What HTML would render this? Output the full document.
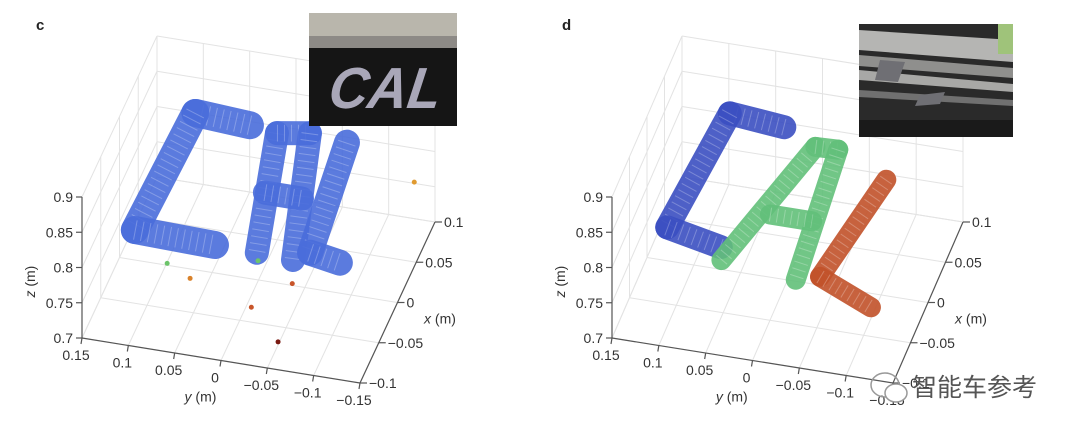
<!DOCTYPE html>
<html><head><meta charset="utf-8"><style>
html,body{margin:0;padding:0;background:#fff;width:1080px;height:435px;overflow:hidden}
svg{display:block}
text{font-family:"Liberation Sans","Noto Sans CJK SC",sans-serif}
</style></head><body>
<svg id="fig" width="1080" height="435" viewBox="0 0 1080 435" xmlns="http://www.w3.org/2000/svg">
  <text x="36" y="30" font-size="15" font-weight="bold" fill="#222">c</text>
  <text x="562" y="30" font-size="15" font-weight="bold" fill="#222">d</text>
  <g id="pc"></g>
  <g id="pd"></g>
  <!-- inset photo c -->
  <g>
    <rect x="309" y="13" width="148" height="113" fill="#151515"/>
    <rect x="309" y="13" width="148" height="30" fill="#b9b6ac"/>
    <rect x="309" y="36" width="148" height="12" fill="#8d8a86"/>
    <text x="330" y="108" font-size="58" font-weight="bold" font-style="italic" fill="#a9a7b8" textLength="112" lengthAdjust="spacingAndGlyphs" transform="skewX(-8) translate(12 0)">CAL</text>
  </g>
  <!-- inset photo d -->
  <g>
    <rect x="859" y="24" width="154" height="113" fill="#2a2a2a"/>
    <polygon points="859,30 1013,40 1013,62 859,50" fill="#b5b5b3"/>
    <polygon points="859,55 1013,68 1013,78 859,66" fill="#8f8f8d"/>
    <polygon points="859,70 1013,84 1013,92 859,80" fill="#a8a8a6"/>
    <polygon points="859,90 1013,100 1013,106 859,97" fill="#707070"/>
    <rect x="859" y="120" width="154" height="17" fill="#1a1a1a"/>
    <polygon points="880,60 905,62 898,82 875,80" fill="#6f6f74"/>
    <polygon points="920,95 945,92 940,104 915,106" fill="#6f6f74"/>
    <rect x="998" y="24" width="15" height="30" fill="#9fc37a"/>
  </g>
  <!-- watermark -->
  <g>
    <ellipse cx="885" cy="385" rx="14" ry="12" fill="none" stroke="#999" stroke-width="1.5"/>
    <ellipse cx="896" cy="393" rx="11" ry="9" fill="#fff" stroke="#999" stroke-width="1.5"/>
    <text x="912" y="396" font-size="25" fill="#555">智能车参考</text>
  </g>
</svg>
<script>
// ---- data ----
const zTicks = [0.7, 0.75, 0.8, 0.85, 0.9];
const zTickLabels = ["0.7", "0.75", "0.8", "0.85", "0.9"];
const yTicks = [0.15, 0.1, 0.05, 0, -0.05, -0.1, -0.15];
const yTickLabels = ["0.15", "0.1", "0.05", "0", "\u22120.05", "\u22120.1", "\u22120.15"];
const xTicks = [-0.1, -0.05, 0, 0.05, 0.1];
const xTickLabels = ["\u22120.1", "\u22120.05", "0", "0.05", "0.1"];

// letter strokes in data coords: [y1, x1, y2, x2] at z = 0.85
const strokesC = [[0.0315,0.055,0.092,0.059],[0.092,0.059,0.098,-0.0875],[0.098,-0.0875,0.0106,-0.0899]];
const strokesA = [[0.0007,0.051,-0.035,-0.091],[0.0007,0.051,-0.0324,0.057],[-0.0324,0.057,-0.0747,-0.0926],[-0.015,-0.02,-0.055,-0.02]];
const strokesL = [[-0.074,0.053,-0.0885,-0.081],[-0.0885,-0.081,-0.123,-0.087]];
const outliersC = [[0.020,-0.133,0.85],[-0.098,-0.19,0.85],[-0.055,-0.155,0.85],[-0.085,-0.12,0.85],[-0.16,0.02,0.85],[0.05,-0.12,0.85],[-0.04,-0.1,0.85]];
const outlierColorsC = ["#d9822b","#7a1a12","#c8552a","#c8552a","#e09a30","#6cc46a","#6cc46a"];

const strokesD_C = [[0.0236,0.054,0.084,0.060],[0.084,0.060,0.097,-0.084],[0.097,-0.084,0.035,-0.097]];
const strokesD_A = [[0.0287,-0.112,-0.016,0.037],[-0.016,0.037,-0.040,0.038],[-0.040,0.038,-0.054,-0.121],[0.0,-0.05,-0.045,-0.05]];
const strokesD_L = [[-0.101,0.012,-0.077,-0.113],[-0.077,-0.113,-0.141,-0.139]];

const NS = "http://www.w3.org/2000/svg";
function mk(parent, tag, attrs){ const e=document.createElementNS(NS,tag); for(const k in attrs) e.setAttribute(k,attrs[k]); parent.appendChild(e); return e; }

function makeProj(O, Vy, Vx, Vz){
  return function(y,x,z){
    const a=(0.15-y)/0.3, b=(x+0.1)/0.2, c=(z-0.7)/0.2;
    return [O[0]+a*Vy[0]+b*Vx[0]+c*Vz[0], O[1]+a*Vy[1]+b*Vx[1]+c*Vz[1]];
  };
}

function line(g,p,q,stroke,w){ return mk(g,'line',{x1:p[0],y1:p[1],x2:q[0],y2:q[1],stroke:stroke,'stroke-width':w}); }

function drawAxes(g, P){
  const gc="#e3e3e3";
  const grid=mk(g,'g',{});
  
  
  yTicks.forEach(y=>line(grid,P(y,-0.1,0.7),P(y,0.1,0.7),gc,1));
  xTicks.forEach(x=>line(grid,P(0.15,x,0.7),P(-0.15,x,0.7),gc,1));
  zTicks.forEach(z=>line(grid,P(0.15,-0.1,z),P(0.15,0.1,z),gc,1));
  xTicks.forEach(x=>line(grid,P(0.15,x,0.7),P(0.15,x,0.9),gc,1));
  zTicks.forEach(z=>line(grid,P(0.15,0.1,z),P(-0.15,0.1,z),gc,1));
  yTicks.forEach(y=>line(grid,P(y,0.1,0.7),P(y,0.1,0.9),gc,1));
  const ac="#555";
  const za=line(g,P(0.15,-0.1,0.7),P(0.15,-0.1,0.9),ac,1.2);
   
  zTicks.forEach((z,i)=>{
    const p=P(0.15,-0.1,z);
    line(g,p,[p[0]-6,p[1]],ac,1.2);
    const t=mk(g,'text',{x:p[0]-9,y:p[1]+5,'font-size':14,fill:'#333','text-anchor':'end'});
     
    t.textContent=zTickLabels[i];
  });
  const ya=line(g,P(0.15,-0.1,0.7),P(-0.15,-0.1,0.7),ac,1.2);
   
  yTicks.forEach((y,i)=>{
    const p=P(y,-0.1,0.7);
    line(g,p,[p[0]-1,p[1]+6],ac,1.2);
    const t=mk(g,'text',{x:p[0]-6,y:p[1]+22,'font-size':14,fill:'#333','text-anchor':'middle'});
     
    t.textContent=yTickLabels[i];
  });
  const xa=line(g,P(-0.15,-0.1,0.7),P(-0.15,0.1,0.7),ac,1.2);
   
  xTicks.forEach((x,i)=>{
    const p=P(-0.15,x,0.7);
    line(g,p,[p[0]+7,p[1]],ac,1.2);
    const t=mk(g,'text',{x:p[0]+9,y:p[1]+5,'font-size':14,fill:'#333'});
     
    t.textContent=xTickLabels[i];
  });
  const zc=P(0.15,-0.1,0.78);
  const zl=mk(g,'text',{x:zc[0]-47,y:zc[1],'font-size':14,fill:'#333','text-anchor':'middle',transform:`rotate(-90 ${zc[0]-47} ${zc[1]})`});
   
  zl.innerHTML='<tspan font-style="italic">z</tspan> (m)';
  const yc=P(0.02,-0.1,0.7);
  const yl=mk(g,'text',{x:yc[0]-2,y:yc[1]+44,'font-size':14,fill:'#333','text-anchor':'middle'});
   
  yl.innerHTML='<tspan font-style="italic">y</tspan> (m)';
  const xc=P(-0.15,-0.02,0.7);
  const xl=mk(g,'text',{x:xc[0]+50,y:xc[1]+5,'font-size':14,fill:'#333','text-anchor':'middle'});
   
  xl.innerHTML='<tspan font-style="italic">x</tspan> (m)';
}

function drawLetter(g, P, strokes, color, w, name){
  const lg=mk(g,'g',{});
  
  
  strokes.forEach(s=>{
    const p=P(s[0],s[1],0.85), q=P(s[2],s[3],0.85);
    const l=line(lg,p,q,color,w);
    l.setAttribute('stroke-linecap','round'); l.setAttribute('opacity','0.9');
     
    const d=line(lg,p,q,'#fff',w*0.7);
    d.setAttribute('stroke-dasharray','1 6'); d.setAttribute('opacity','0.25');
  });
}

// panel c
const Pc=makeProj([82,338],[278,45],[75,-161],[0,-141]);
const gc=document.getElementById('pc');
drawAxes(gc,Pc);
drawLetter(gc,Pc,strokesC,'#4a6ddb',28,'letter-c-points');
drawLetter(gc,Pc,strokesA,'#4a6ddb',24,'letter-a-points');
drawLetter(gc,Pc,strokesL,'#4a6ddb',26,'letter-l-points');
outliersC.forEach((o,i)=>{
  const p=Pc(o[0],o[1],o[2]);
  const c=mk(gc,'circle',{cx:p[0],cy:p[1],r:2.5,fill:outlierColorsC[i]});
  
  
});

// panel d
const Pd=makeProj([612,338],[281,45],[70,-161],[0,-141]);
const gd=document.getElementById('pd');
drawAxes(gd,Pd);
drawLetter(gd,Pd,strokesD_C,'#3b4fc2',24,'letter-c-points');
drawLetter(gd,Pd,strokesD_A,'#62c07a',20,'letter-a-points');
drawLetter(gd,Pd,strokesD_L,'#c2522a',20,'letter-l-points');
</script>
</body></html>
